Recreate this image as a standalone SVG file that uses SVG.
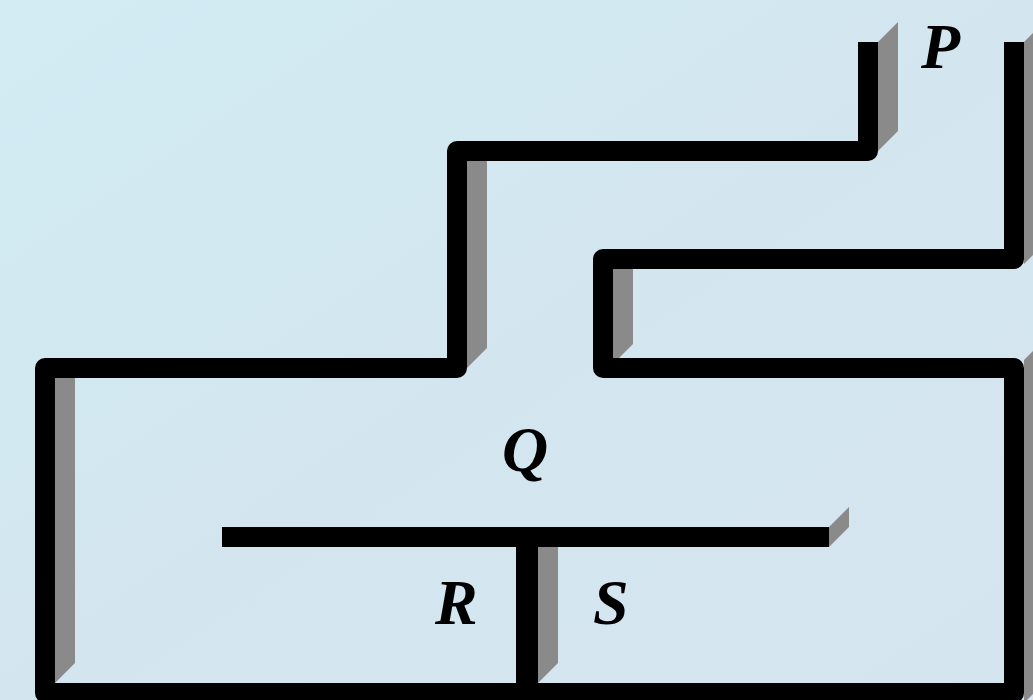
<svg xmlns="http://www.w3.org/2000/svg" width="1033" height="700" viewBox="0 0 1033 700">
  <defs>
    <linearGradient id="bg" x1="0" y1="0" x2="1" y2="1">
      <stop offset="0" stop-color="#d2ecf4"/>
      <stop offset="0.5" stop-color="#d3e6ef"/>
      <stop offset="1" stop-color="#d5e5ef"/>
    </linearGradient>
    <style>
      .wall { fill: none; stroke: #000; stroke-width: 20; stroke-linejoin: round; stroke-linecap: butt; }
      .shade { fill: #8a8a8a; stroke: none; }
      .lbl { font-family: "Liberation Serif", "Times New Roman", serif; font-weight: bold; font-style: italic; font-size: 64px; fill: #000; }
    </style>
  </defs>
  <rect x="0" y="0" width="1033" height="700" fill="url(#bg)"/>
  <g id="shadows">
    <polygon class="shade" points="878,42 898,22 898,131 878,151"/>
    <polygon class="shade" points="467,161 487,161 487,348 467,368"/>
    <polygon class="shade" points="613,269 633,269 633,344 613,364"/>
    <polygon class="shade" points="55,378 75,378 75,663 55,683"/>
    <polygon class="shade" points="538,547 558,547 558,663 538,683"/>
    <polygon class="shade" points="1024,42 1044,22 1044,244 1024,264"/>
    <polygon class="shade" points="1024,360 1044,340 1044,683 1024,703"/>
    <polygon class="shade" points="829,527 849,507 849,527 829,547"/>
  </g>
  <g id="connectors">
    <path class="wall" d="M868 42 V151 H457 V368 H45 V693 H1014 V368 H603 V259 H1014 V42"/>
    <path class="wall" d="M222 537 H829"/>
    <path class="wall" style="stroke-width:22" d="M527 537 V700"/>
  </g>
  <g id="P"><text class="lbl" x="921" y="68">P</text></g>
  <g id="Q"><text class="lbl" x="502" y="471">Q</text></g>
  <g id="R"><text class="lbl" x="435" y="624">R</text></g>
  <g id="S"><text class="lbl" x="593" y="624">S</text></g>
</svg>
